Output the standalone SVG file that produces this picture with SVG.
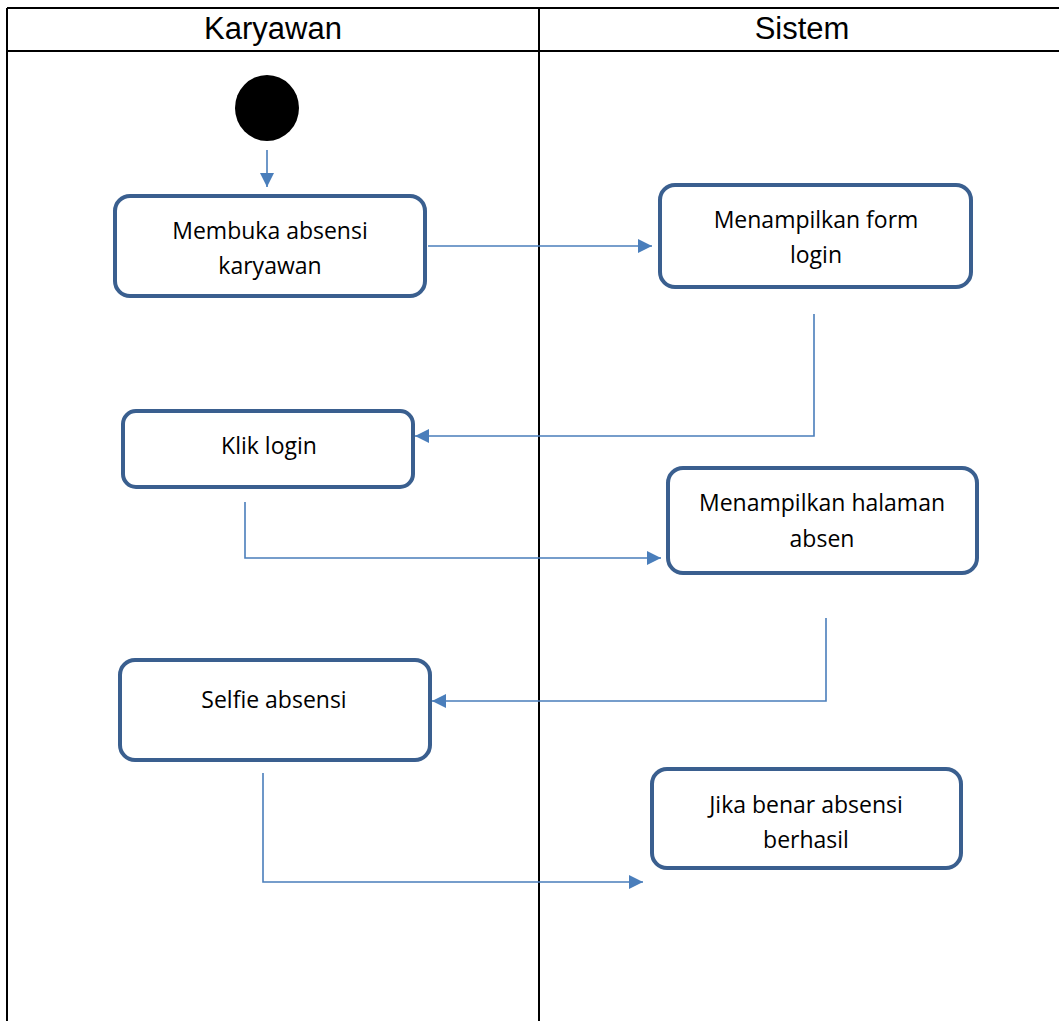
<svg xmlns="http://www.w3.org/2000/svg" width="1059" height="1021" viewBox="0 0 1059 1021">
<style>
.lane{fill:none;stroke:#000;stroke-width:2}
.hdr{font-family:"Liberation Sans",Arial,sans-serif;font-size:31px;fill:#000;text-anchor:middle}
.box{fill:#fff;stroke:#3A5F8F;stroke-width:4}
.lbl{font-family:"Open Sans","Noto Sans",sans-serif;font-size:23px;fill:#000;text-anchor:middle}
.con{fill:none;stroke:#4A7EBB;stroke-width:1.6}
</style>
<defs>
<marker id="ah2" viewBox="0 0 10 10" refX="10" refY="5" markerWidth="9" markerHeight="9" orient="auto">
<path d="M0,0 L10,5 L0,10 z" fill="#4A7EBB"/>
</marker>
</defs>
<rect width="1059" height="1021" fill="#fff"/>
<g id="swimlanes">
<line class="lane" x1="7" y1="8" x2="1059" y2="8"/>
<line class="lane" x1="7" y1="51" x2="1059" y2="51"/>
<line class="lane" x1="7" y1="8" x2="7" y2="1021"/>
<line class="lane" x1="539" y1="8" x2="539" y2="1021"/>
<text class="hdr" x="273" y="39">Karyawan</text>
<text class="hdr" x="802" y="39">Sistem</text>
</g>
<g id="connectors">
<path class="con" d="M267,150 V187" marker-end="url(#ah2)"/>
<path class="con" d="M428,246 H652" marker-end="url(#ah2)"/>
<path class="con" d="M814,314 V436 H415" marker-end="url(#ah2)"/>
<path class="con" d="M245,502 V558 H661" marker-end="url(#ah2)"/>
<path class="con" d="M826,618 V701 H432" marker-end="url(#ah2)"/>
<path class="con" d="M263,773 V882 H643" marker-end="url(#ah2)"/>
</g>
<g id="start"><ellipse cx="267" cy="108" rx="32" ry="33" fill="#000"/></g>
<g id="n1"><rect class="box" x="115" y="196" width="310" height="100" rx="15"/>
<text class="lbl" x="270" y="239">Membuka absensi</text><text class="lbl" x="270" y="274">karyawan</text></g>
<g id="n2"><rect class="box" x="660" y="185" width="311" height="102" rx="15"/>
<text class="lbl" x="816" y="228">Menampilkan form</text><text class="lbl" x="816" y="263">login</text></g>
<g id="n3"><rect class="box" x="123" y="411" width="290" height="76" rx="13"/>
<text class="lbl" x="269" y="454">Klik login</text></g>
<g id="n4"><rect class="box" x="668" y="468" width="309" height="105" rx="15"/>
<text class="lbl" x="822" y="511">Menampilkan halaman</text><text class="lbl" x="822" y="547">absen</text></g>
<g id="n5"><rect class="box" x="120" y="660" width="310" height="100" rx="15"/>
<text class="lbl" x="274" y="708">Selfie absensi</text></g>
<g id="n6"><rect class="box" x="652" y="769" width="309" height="99" rx="15"/>
<text class="lbl" x="806" y="813">Jika benar absensi</text><text class="lbl" x="806" y="848">berhasil</text></g>
</svg>
